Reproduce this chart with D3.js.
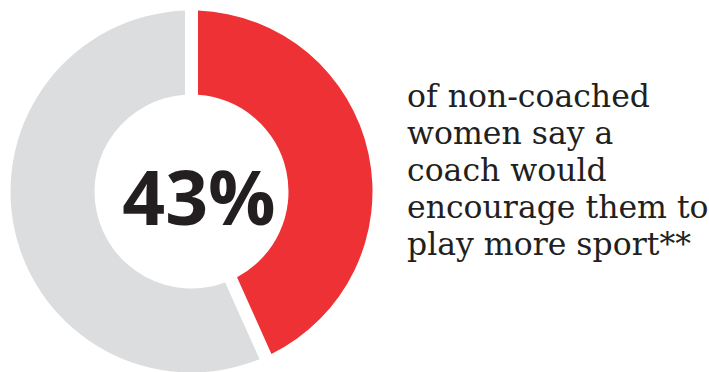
<!DOCTYPE html>
<html>
<head>
<meta charset="utf-8">
<script src="https://cdn.jsdelivr.net/npm/d3@7"></script>
<style>
  html, body { margin: 0; padding: 0; background: #fff; }
  svg { display: block; }
  .big { font-family: "Open Sans", sans-serif; font-weight: 700; fill: #231f20; }
  .caption { font-family: "DejaVu Serif", serif; fill: #231f20; }
</style>
</head>
<body>
<svg id="chart" width="709" height="372"></svg>
<script>
const categories = ["coach would encourage", "rest"];
const values = [43, 57];
const colors = ["#ee3135", "#dcdddf"];
const headline = "43%";
const captionLines = [
  "of non-coached",
  "women say a",
  "coach would",
  "encourage them to",
  "play more sport**"
];

const width = 709, height = 372;
const cx = 191.5, cy = 191.5;
const outerR = 181, innerR = 97;

const svg = d3.select("#chart");

const pie = d3.pie().sort(null).value(d => d.value).padAngle(0.13);
const arc = d3.arc().innerRadius(innerR).outerRadius(outerR).padRadius(100);

const data = categories.map((c, i) => ({ name: c, value: values[i], color: colors[i] }));

const g = svg.append("g").attr("transform", `translate(${cx},${cy})`);

g.selectAll("path")
  .data(pie(data))
  .enter()
  .append("path")
  .attr("d", arc)
  .attr("fill", d => d.data.color);

svg.append("text")
  .attr("class", "big")
  .attr("x", 199)
  .attr("y", 225)
  .attr("text-anchor", "middle")
  .attr("font-size", 75)
  .text(headline);

const cap = svg.append("text")
  .attr("class", "caption")
  .attr("font-size", 31.5);

cap.selectAll("tspan")
  .data(captionLines)
  .enter()
  .append("tspan")
  .attr("x", 407)
  .attr("y", (d, i) => 107 + i * 37)
  .text(d => d);
</script>
</body>
</html>
